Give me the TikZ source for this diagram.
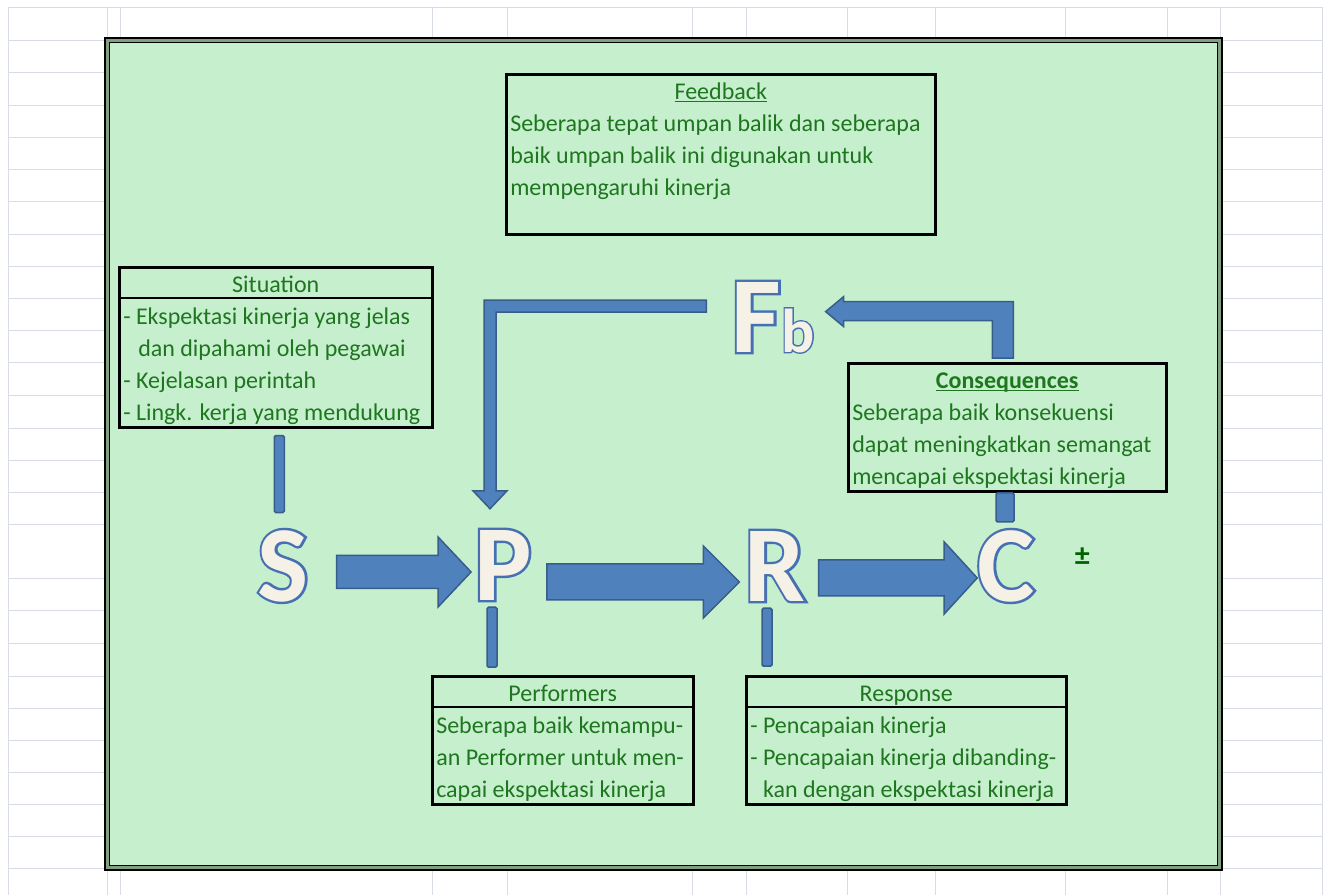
\documentclass[tikz,border=0pt]{standalone}
\usepackage{fontspec}
\setmainfont{Carlito}
\newfontface\rimedgeface{Carlito Bold}[FakeBold=4.5]
\newfontface\rimfillface{Carlito Bold}
\usetikzlibrary{calc,positioning}

\definecolor{cellgrid}{RGB}{216,220,233}
\definecolor{goodfill}{RGB}{198,239,206}
\definecolor{frameband}{RGB}{128,160,128}
\definecolor{textgreen}{RGB}{30,118,30}
\definecolor{darkgreen}{RGB}{0,97,0}
\definecolor{arrowfill}{RGB}{79,129,189}
\definecolor{arrowedge}{RGB}{56,93,138}
\definecolor{lettercream}{RGB}{245,241,230}
\definecolor{letteredge}{RGB}{70,112,178}

\newcommand{\boxfont}{\fontsize{24}{32}\selectfont}
\newcommand{\rowstrut}{\rule[-6.5pt]{0pt}{32pt}}
\newsavebox{\ulbox}
\newcommand{\uln}[1]{\sbox{\ulbox}{#1}\rlap{\rule[-2.5pt]{\wd\ulbox}{1.2pt}}\usebox{\ulbox}}
\newcommand{\rimletter}[1]{%
  \makebox[0pt][l]{\rimedgeface\color{letteredge}#1}%
  {\rimfillface\color{lettercream}#1}}
\newcommand{\blockarrow}[5]{%
  \draw[blockarr] let \p1=#1, \p2=#2 in
    (\x1,\y2+#3) -- (\x2-#5,\y2+#3) -- (\x2-#5,\y2+#4) -- (\x2,\y2)
    -- (\x2-#5,\y2-#4) -- (\x2-#5,\y2-#3) -- (\x1,\y2-#3) -- cycle;}

\tikzset{
  gridline/.style={draw=cellgrid, line width=1pt},
  infobox/.style={draw=black, line width=2.5pt, anchor=north west, inner xsep=4pt,
    inner ysep=0pt, align=left, font=\boxfont, text=textgreen},
  sepline/.style={draw=black, line width=1.5pt},
  bigletter/.style={font=\fontsize{108}{108}\selectfont, inner sep=0pt, anchor=base},
  blockarr/.style={fill=arrowfill, draw=arrowedge, line width=1.5pt, line join=miter},
  stembox/.style={fill=arrowfill, draw=arrowedge, line width=1.5pt, rounded corners=1.5pt},
  pmsign/.style={font=\fontsize{30}{30}\selectfont\bfseries, text=darkgreen, inner sep=0pt}
}

\begin{document}
\begin{tikzpicture}[x=1pt,y=-1pt]
  \useasboundingbox (0,0) rectangle (1328,895);
  \fill[white] (0,0) rectangle (1328,895);

  % sheet grid
  \foreach \gy in {7,40,72,105,137,169,201,234,266,298,330,362,395,428,460,492,524,578,610,643,676,708,740,772,804,836,868}
    \draw[gridline] (8,\gy) -- (1322,\gy);
  \foreach \gx in {8,107,120,432,507,692,746,847,935,1065,1167,1220,1322}
    \draw[gridline] (\gx,7) -- (\gx,895);

  % panel
  \fill[frameband] (105,38) rectangle (1222,870);
  \draw[black, line width=1.2pt] (105,38) rectangle (1222,870);
  \filldraw[fill=goodfill, draw=black, line width=1pt] (109.5,42.5) rectangle (1217.5,865.5);

  \node[infobox] (fback) at (505,73) {%
    \hbox to 421pt{\hss\rowstrut\uln{Feedback}\hss}\\
    \rowstrut Seberapa tepat umpan balik dan seberapa\\
    \rowstrut baik umpan balik ini digunakan untuk\\
    \rowstrut mempengaruhi kinerja\\
    \rowstrut};
  \node[infobox] (sit) at (118,266) {%
    \hbox to 305pt{\hss\rowstrut Situation\hss}\\
    \rowstrut - Ekspektasi kinerja yang jelas\\
    \rowstrut\hspace*{15pt}dan dipahami oleh pegawai\\
    \rowstrut - Kejelasan perintah\\
    \rowstrut - Lingk. kerja yang mendukung};
  \node[infobox] (cons) at (847,362) {%
    \hbox to 310pt{\hss\rowstrut\textbf{\uln{Consequences}}\hss}\\
    \rowstrut Seberapa baik konsekuensi\\
    \rowstrut dapat meningkatkan semangat\\
    \rowstrut mencapai ekspektasi kinerja};
  \node[infobox] (perf) at (431,675) {%
    \hbox to 253pt{\hss\rowstrut Performers\hss}\\
    \rowstrut Seberapa baik kemampu-\\
    \rowstrut an Performer untuk men-\\
    \rowstrut capai ekspektasi kinerja};
  \node[infobox] (resp) at (745,675) {%
    \hbox to 312pt{\hss\rowstrut Response\hss}\\
    \rowstrut - Pencapaian kinerja\\
    \rowstrut - Pencapaian kinerja dibanding-\\
    \rowstrut\phantom{- }kan dengan ekspektasi kinerja};
  \draw[sepline] ([yshift=-32pt]sit.north west) -- ([yshift=-32pt]sit.north east);
  \draw[sepline] ([yshift=-32pt]perf.north west) -- ([yshift=-32pt]perf.north east);
  \draw[sepline] ([yshift=-32pt]resp.north west) -- ([yshift=-32pt]resp.north east);

  \node[bigletter] (S) at (283,601) {\rimletter{S}};
  \node[bigletter] (P) at (503,600) {\rimletter{P}};
  \node[bigletter] (R) at (775,601) {\rimletter{R}};
  \node[bigletter] (C) at (1006,601) {\rimletter{C}};
  \node[bigletter] (Fb) at (773,352) {\rimletter{F{\fontsize{62}{62}\selectfont b}}};
  \node[pmsign, right=40pt of C, yshift=9pt] (pm) {±};

  \blockarrow{([shift={(28,7)}]S.east)}{([shift={(-3,7)}]P.west)}{16.5pt}{35pt}{33pt}
  \blockarrow{([shift={(15,16)}]P.east)}{([shift={(-5,16)}]R.west)}{18pt}{36pt}{36pt}
  \blockarrow{([shift={(13,13)}]R.east)}{([shift={(0,12)}]C.west)}{18pt}{36pt}{33pt}

  \draw[blockarr] let \p1=([shift={(-25,-11)}]Fb.west), \p2=([shift={(-13,-21)}]P.north) in
    (\x1,\y1+6pt) -- (\x2-6pt,\y1+6pt) -- (\x2-6pt,\y2+18pt) -- (\x2-17pt,\y2+18pt)
    -- (\x2,\y2) -- (\x2+17pt,\y2+18pt) -- (\x2+6pt,\y2+18pt) -- (\x2+6pt,\y1-6pt)
    -- (\x1,\y1-6pt) -- cycle;
  \draw[blockarr] let \p1=([shift={(-4.5,-4)}]cons.north), \p2=([shift={(11,-5.6)}]Fb.east) in
    (\x1+10.5pt,\y1) -- (\x1+10.5pt,\y2+10pt) -- (\x2+18pt,\y2+10pt) -- (\x2+18pt,\y2+15pt)
    -- (\x2,\y2) -- (\x2+18pt,\y2-15pt) -- (\x2+18pt,\y2-9pt) -- (\x1-10.5pt,\y2-9pt)
    -- (\x1-10.5pt,\y1) -- cycle;

  \draw[stembox] (sit.south) ++(-1.5,7) rectangle ++(10,77);
  \draw[stembox] (P.south) ++(-16,7) rectangle ++(10,60);
  \draw[stembox] (R.south) ++(-13,7) rectangle ++(10,58);
  \draw[stembox] (C.north) ++(-10,-8) rectangle ++(18,-29);
\end{tikzpicture}
\end{document}
